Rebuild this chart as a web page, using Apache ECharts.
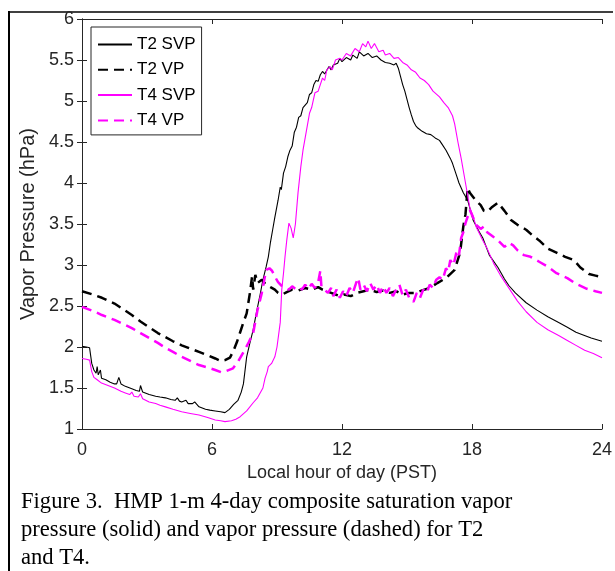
<!DOCTYPE html>
<html>
<head>
<meta charset="utf-8">
<script src="https://cdn.jsdelivr.net/npm/echarts@6/dist/echarts.min.js"></script>
<style>
  html, body { margin: 0; padding: 0; background: #fff; }
  #chart { width: 615px; height: 571px; }
</style>
</head>
<body>
<div id="chart"></div>
<script>
// hour ticks and y ticks
const xTicks = [0, 6, 12, 18, 24]
const yTicks = [1, 1.5, 2, 2.5, 3, 3.5, 4, 4.5, 5, 5.5, 6]

const seriesNames = ['T2 SVP', 'T2 VP', 'T4 SVP', 'T4 VP']

// [hour, hPa]
const t2Svp = [
  [0, 2.01], [0.2, 2.0], [0.35, 1.99], [0.45, 1.8], [0.55, 1.72], [0.65, 1.68], [0.7, 1.76], [0.75, 1.66],
  [0.85, 1.72], [0.9, 1.62], [1.1, 1.6], [1.3, 1.57], [1.5, 1.55], [1.6, 1.55], [1.7, 1.63], [1.8, 1.55],
  [2.0, 1.52], [2.3, 1.49], [2.5, 1.47], [2.65, 1.46], [2.7, 1.53], [2.8, 1.45], [3.1, 1.42], [3.4, 1.4],
  [3.6, 1.39], [3.85, 1.38], [4.1, 1.36], [4.3, 1.35], [4.4, 1.38], [4.5, 1.34], [4.6, 1.33], [4.8, 1.35],
  [4.9, 1.31], [5.1, 1.31], [5.2, 1.33], [5.4, 1.27], [5.7, 1.24], [5.9, 1.23], [6.15, 1.22], [6.4, 1.21],
  [6.6, 1.2], [6.8, 1.24], [7.0, 1.3], [7.2, 1.35], [7.35, 1.45], [7.45, 1.55], [7.6, 1.88], [7.75, 2.05],
  [7.9, 2.21], [8.05, 2.42], [8.2, 2.61], [8.35, 2.82], [8.5, 2.98], [8.6, 3.1], [8.7, 3.28], [8.8, 3.43],
  [8.9, 3.58], [9.05, 3.79], [9.15, 3.95], [9.2, 3.92], [9.3, 4.12], [9.4, 4.2], [9.5, 4.32], [9.6, 4.4],
  [9.7, 4.45], [9.8, 4.62], [9.9, 4.68], [10.0, 4.8], [10.1, 4.82], [10.2, 4.92], [10.3, 4.95], [10.4, 4.98],
  [10.5, 5.08], [10.6, 5.1], [10.7, 5.2], [10.8, 5.25], [10.9, 5.24], [11.0, 5.32], [11.1, 5.36], [11.2, 5.33],
  [11.4, 5.42], [11.5, 5.38], [11.6, 5.44], [11.8, 5.46], [11.9, 5.52], [12.0, 5.48], [12.2, 5.53], [12.4, 5.5],
  [12.5, 5.56], [12.7, 5.52], [12.8, 5.6], [13.0, 5.55], [13.2, 5.58], [13.4, 5.53], [13.6, 5.55], [13.8, 5.5],
  [14.0, 5.47], [14.2, 5.46], [14.4, 5.44], [14.5, 5.46], [14.6, 5.4], [14.7, 5.3], [14.8, 5.2], [14.9, 5.12],
  [15.0, 5.02], [15.1, 4.92], [15.2, 4.83], [15.3, 4.75], [15.4, 4.7], [15.5, 4.67], [15.7, 4.63], [15.9, 4.6],
  [16.1, 4.59], [16.3, 4.55], [16.5, 4.52], [16.6, 4.48], [16.8, 4.4], [17.0, 4.3], [17.1, 4.24], [17.3, 4.08],
  [17.4, 4.0], [17.6, 3.88], [17.8, 3.79], [18.05, 3.55], [18.3, 3.42], [18.5, 3.33], [18.8, 3.12], [19.2, 2.97],
  [19.5, 2.83], [19.7, 2.75], [20.0, 2.66], [20.5, 2.54], [21.0, 2.45], [21.5, 2.37], [22.0, 2.3], [22.4, 2.24],
  [22.8, 2.18], [23.1, 2.15], [23.5, 2.11], [24, 2.07]
]

const t2Vp = [
  [0, 2.68], [0.5, 2.64], [0.92, 2.6], [1.5, 2.53], [1.9, 2.46], [2.3, 2.39], [2.7, 2.31], [3.1, 2.24],
  [3.5, 2.17], [3.85, 2.12], [4.2, 2.07], [4.6, 2.02], [5.0, 1.98], [5.4, 1.94], [5.8, 1.9], [6.15, 1.86],
  [6.4, 1.83], [6.6, 1.84], [6.83, 1.87], [7.0, 1.96], [7.15, 2.06], [7.3, 2.18], [7.45, 2.3], [7.6, 2.41],
  [7.75, 2.66], [7.85, 2.86], [7.9, 2.7], [8.0, 2.88], [8.1, 2.78], [8.3, 2.82], [8.5, 2.76], [8.7, 2.73],
  [8.9, 2.7], [9.05, 2.66], [9.25, 2.64], [9.45, 2.67], [9.7, 2.7], [10.0, 2.69], [10.3, 2.72], [10.6, 2.7],
  [10.9, 2.73], [11.1, 2.7], [11.3, 2.68], [11.5, 2.66], [11.7, 2.64], [11.9, 2.62], [12.1, 2.64], [12.4, 2.62],
  [12.7, 2.66], [13.0, 2.68], [13.3, 2.7], [13.6, 2.67], [13.9, 2.69], [14.2, 2.66], [14.5, 2.68], [14.8, 2.64],
  [15.1, 2.66], [15.4, 2.66], [15.7, 2.69], [16.05, 2.72], [16.4, 2.78], [16.8, 2.84], [17.2, 2.94], [17.45, 3.15],
  [17.6, 3.47], [17.7, 3.62], [17.8, 3.94], [17.9, 3.88], [18.05, 3.83], [18.2, 3.78], [18.4, 3.73], [18.55, 3.66],
  [18.7, 3.65], [18.9, 3.7], [19.2, 3.76], [19.5, 3.66], [19.8, 3.55], [20.1, 3.49], [20.5, 3.43], [20.8, 3.36],
  [21.1, 3.3], [21.5, 3.2], [21.9, 3.15], [22.3, 3.1], [22.7, 3.06], [23.0, 2.97], [23.4, 2.89], [23.7, 2.87],
  [24, 2.85]
]

const t4Svp = [
  [0, 1.86], [0.2, 1.85], [0.35, 1.84], [0.45, 1.7], [0.55, 1.63], [0.7, 1.6], [0.9, 1.56], [1.2, 1.53],
  [1.5, 1.5], [1.8, 1.46], [2.0, 1.44], [2.2, 1.42], [2.3, 1.45], [2.4, 1.4], [2.6, 1.39], [2.7, 1.43],
  [2.8, 1.37], [3.1, 1.33], [3.4, 1.31], [3.6, 1.29], [3.85, 1.27], [4.2, 1.24], [4.6, 1.21], [5.0, 1.19],
  [5.4, 1.17], [5.8, 1.14], [6.15, 1.11], [6.4, 1.1], [6.6, 1.09], [6.9, 1.1], [7.1, 1.12], [7.3, 1.15],
  [7.6, 1.22], [7.9, 1.32], [8.1, 1.38], [8.35, 1.5], [8.45, 1.62], [8.55, 1.7], [8.6, 1.76], [8.75, 1.8],
  [8.9, 1.88], [9.0, 2.0], [9.1, 2.2], [9.15, 2.3], [9.22, 2.7], [9.3, 2.9], [9.37, 3.1], [9.45, 3.3],
  [9.55, 3.51], [9.65, 3.45], [9.75, 3.33], [9.85, 3.5], [9.97, 3.88], [10.1, 4.2], [10.2, 4.4], [10.3, 4.55],
  [10.4, 4.7], [10.5, 4.85], [10.6, 4.92], [10.75, 5.1], [10.9, 5.12], [11.0, 5.2], [11.1, 5.28], [11.2, 5.25],
  [11.3, 5.38], [11.45, 5.42], [11.55, 5.38], [11.7, 5.5], [11.9, 5.52], [12.0, 5.5], [12.2, 5.58], [12.4, 5.55],
  [12.6, 5.64], [12.8, 5.6], [12.95, 5.7], [13.1, 5.66], [13.2, 5.73], [13.35, 5.64], [13.5, 5.7], [13.7, 5.6],
  [13.9, 5.62], [14.0, 5.56], [14.2, 5.58], [14.4, 5.52], [14.6, 5.53], [14.8, 5.47], [15.0, 5.44], [15.2, 5.38],
  [15.4, 5.35], [15.6, 5.28], [15.8, 5.25], [16.0, 5.2], [16.2, 5.12], [16.5, 5.05], [16.7, 4.98], [16.9, 4.92],
  [17.1, 4.82], [17.2, 4.72], [17.35, 4.5], [17.5, 4.3], [17.7, 4.0], [17.9, 3.7], [18.05, 3.6], [18.2, 3.46],
  [18.5, 3.3], [18.7, 3.2], [19.0, 3.02], [19.3, 2.88], [19.75, 2.7], [20.1, 2.56], [20.5, 2.43], [21.0, 2.3],
  [21.5, 2.21], [22.0, 2.14], [22.4, 2.08], [22.8, 2.02], [23.2, 1.96], [23.6, 1.92], [24, 1.87]
]

const t4Vp = [
  [0, 2.49], [0.5, 2.44], [0.92, 2.39], [1.5, 2.33], [1.9, 2.28], [2.3, 2.23], [2.7, 2.17], [3.1, 2.11],
  [3.5, 2.05], [3.85, 1.99], [4.2, 1.94], [4.6, 1.88], [5.0, 1.83], [5.4, 1.78], [5.8, 1.75], [6.15, 1.72],
  [6.45, 1.69], [6.6, 1.7], [6.97, 1.74], [7.2, 1.82], [7.5, 1.96], [7.7, 2.06], [7.9, 2.17], [8.1, 2.45],
  [8.3, 2.66], [8.5, 2.94], [8.65, 2.96], [8.77, 2.93], [8.9, 2.86], [9.05, 2.79], [9.2, 2.75], [9.37, 2.73],
  [9.55, 2.7], [9.7, 2.74], [9.85, 2.71], [10.0, 2.73], [10.15, 2.7], [10.3, 2.76], [10.45, 2.71], [10.6, 2.77],
  [10.75, 2.72], [10.9, 2.79], [11.0, 2.93], [11.05, 2.74], [11.2, 2.7], [11.35, 2.66], [11.5, 2.72], [11.6, 2.62],
  [11.75, 2.7], [11.9, 2.6], [12.05, 2.68], [12.2, 2.62], [12.35, 2.72], [12.5, 2.66], [12.65, 2.78], [12.75, 2.84],
  [12.85, 2.7], [13.0, 2.76], [13.15, 2.68], [13.3, 2.78], [13.45, 2.7], [13.6, 2.76], [13.75, 2.66], [13.9, 2.74],
  [14.05, 2.66], [14.2, 2.72], [14.35, 2.62], [14.5, 2.7], [14.65, 2.76], [14.8, 2.63], [14.95, 2.7], [15.1, 2.6],
  [15.3, 2.55], [15.45, 2.66], [15.6, 2.6], [15.75, 2.7], [15.9, 2.66], [16.05, 2.76], [16.2, 2.72], [16.35, 2.82],
  [16.5, 2.85], [16.65, 2.82], [16.8, 2.96], [16.9, 2.92], [17.0, 3.06], [17.15, 3.0], [17.3, 3.18], [17.4, 3.12],
  [17.5, 3.33], [17.6, 3.4], [17.7, 3.51], [17.9, 3.67], [18.05, 3.58], [18.2, 3.49], [18.4, 3.44], [18.55, 3.47],
  [18.7, 3.4], [18.95, 3.35], [19.2, 3.3], [19.5, 3.22], [19.7, 3.27], [19.9, 3.24], [20.1, 3.18], [20.4, 3.12],
  [20.7, 3.1], [21.1, 3.04], [21.5, 2.98], [21.9, 2.9], [22.4, 2.84], [22.8, 2.77], [23.3, 2.71], [23.7, 2.68],
  [24, 2.66]
]

const captionLines = [
  'Figure 3.  HMP 1-m 4-day composite saturation vapor',
  'pressure (solid) and vapor pressure (dashed) for T2',
  'and T4.'
]

const axisColor = '#262626'
const sans = 'Liberation Sans, Arial, sans-serif'

function boxAxis(extra) {
  return Object.assign({
    type: 'value',
    axisLine: { show: true, lineStyle: { color: axisColor, width: 1 } },
    axisTick: { show: true, inside: true, length: 5, lineStyle: { color: axisColor } },
    splitLine: { show: false }
  }, extra)
}

function makeLine(name, data, color, dashed) {
  return {
    name: name,
    type: 'line',
    data: data,
    symbol: 'none',
    showSymbol: false,
    animation: false,
    color: color,
    lineStyle: dashed ? { color: color, width: 2.5, type: [10, 6] } : { color: color, width: 1.1 }
  }
}

const chart = echarts.init(document.getElementById('chart'))

chart.setOption({
  backgroundColor: '#fff',
  grid: { left: 82, right: 13, top: 19, bottom: 142 },
  legend: {
    data: seriesNames,
    orient: 'vertical',
    left: 91,
    top: 27,
    itemWidth: 34,
    itemHeight: 13,
    itemGap: 8.3,
    padding: [9, 6, 6, 6],
    borderColor: axisColor,
    borderWidth: 1,
    backgroundColor: '#fff',
    itemStyle: { opacity: 0 },
    textStyle: { color: '#000', fontSize: 17, fontFamily: sans }
  },
  xAxis: [
    boxAxis({
      min: xTicks[0], max: xTicks[xTicks.length - 1], interval: 6, position: 'bottom',
      axisLabel: { color: axisColor, fontSize: 18, fontFamily: sans, margin: 12 },
      name: 'Local hour of day (PST)', nameLocation: 'middle', nameGap: 33,
      nameTextStyle: { color: axisColor, fontSize: 18, fontFamily: sans }
    }),
    boxAxis({
      min: xTicks[0], max: xTicks[xTicks.length - 1], interval: 6, position: 'top',
      axisLabel: { show: false }
    })
  ],
  yAxis: [
    boxAxis({
      min: yTicks[0], max: yTicks[yTicks.length - 1], interval: 0.5, position: 'left',
      axisLabel: { color: axisColor, fontSize: 18, fontFamily: sans, margin: 8 },
      name: 'Vapor Pressure (hPa)', nameLocation: 'middle', nameGap: 39,
      nameTextStyle: { color: axisColor, fontSize: 20, fontFamily: sans }
    }),
    boxAxis({
      min: yTicks[0], max: yTicks[yTicks.length - 1], interval: 0.5, position: 'right',
      axisLabel: { show: false }
    })
  ],
  series: [
    makeLine(seriesNames[0], t2Svp, '#000000', false),
    makeLine(seriesNames[1], t2Vp, '#000000', true),
    makeLine(seriesNames[2], t4Svp, '#ff00ff', false),
    makeLine(seriesNames[3], t4Vp, '#ff00ff', true)
  ],
  graphic: [
    // frame around the figure (left and top only show)
    { type: 'line', shape: { x1: 9, y1: 11, x2: 9, y2: 571 }, style: { stroke: '#000', lineWidth: 2 } },
    { type: 'line', shape: { x1: 8, y1: 12, x2: 613, y2: 12 }, style: { stroke: '#000', lineWidth: 1.5 } },
    {
      type: 'text', left: 21, top: 488,
      style: {
        text: captionLines.join('\n'),
        font: '22.6px "Liberation Serif", "Times New Roman", serif',
        lineHeight: 28,
        fill: '#000'
      }
    }
  ]
})
</script>
</body>
</html>
